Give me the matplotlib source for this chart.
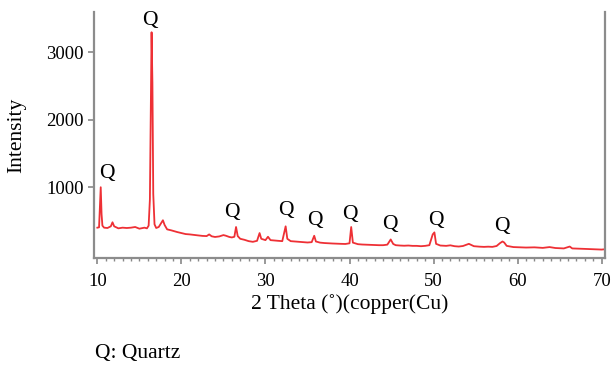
import matplotlib.pyplot as plt
from matplotlib.ticker import MultipleLocator

# XRD pattern
two_theta = [10.0, 10.2, 10.3, 10.4, 10.5, 10.6, 10.8, 11.2, 11.6, 11.8, 12.0, 12.5, 13.0, 13.5,
             14.0, 14.5, 15.0, 15.3, 15.6, 15.9, 16.1, 16.25, 16.35, 16.45, 16.55, 16.65, 16.8,
             17.0, 17.3, 17.6, 17.8, 18.0, 18.3, 18.8, 19.5, 20.0, 20.5, 21.0, 21.5, 22.0, 22.5,
             23.0, 23.3, 23.6, 24.0, 24.5, 25.0, 25.3, 25.7, 26.0, 26.3, 26.5, 26.7, 27.0, 27.5,
             28.0, 28.5, 29.0, 29.3, 29.5, 30.0, 30.3, 30.6, 31.0, 31.5, 32.0, 32.4, 32.6, 33.0,
             33.5, 34.0, 34.5, 35.0, 35.5, 35.8, 36.0, 36.5, 37.0, 37.5, 38.0, 38.5, 39.0, 39.5,
             40.0, 40.2, 40.4, 41.0, 41.5, 42.0, 42.5, 43.0, 43.5, 44.0, 44.5, 44.9, 45.2, 45.5,
             46.0, 46.5, 47.0, 47.5, 48.0, 48.5, 49.0, 49.5, 49.9, 50.1, 50.3, 50.8, 51.5, 52.0,
             52.5, 53.0, 53.5, 54.2, 54.8, 55.5, 56.0, 56.5, 57.0, 57.5, 57.9, 58.2, 58.4, 58.7,
             59.5, 60.0, 61.0, 62.0, 63.0, 63.8, 64.5, 65.5, 66.2, 66.5, 67.0, 68.0, 69.0, 70.0,
             70.4]
intensity = [400, 405, 700, 1000, 600, 430, 400, 395, 420, 480, 420, 390, 400, 395,
             400, 410, 385, 392, 400, 390, 430, 820, 2000, 3300, 2550, 900, 450,
             395, 410, 470, 510, 440, 375, 360, 335, 320, 305, 300, 292, 285, 278,
             275, 300, 272, 262, 270, 290, 280, 262, 255, 265, 410, 275, 235, 220,
             200, 190, 205, 320, 235, 215, 265, 215, 210, 205, 200, 420, 235, 200,
             195, 190, 185, 180, 185, 280, 195, 178, 172, 168, 165, 162, 160, 158,
             168, 410, 178, 155, 150, 148, 145, 142, 140, 140, 148, 225, 158, 140,
             135, 132, 135, 130, 130, 125, 130, 140, 300, 330, 160, 135, 130, 138,
             125, 120, 128, 160, 125, 118, 115, 118, 115, 128, 170, 195, 180, 130,
             112, 110, 105, 108, 100, 112, 98, 92, 120, 92, 90, 85, 80, 75,
             80]

# "Q" marker positions
q_x = [11.1, 16.2, 25.95, 32.4, 35.85, 40.1, 44.75, 50.25, 58.1]
q_y = [1210, 3480, 620, 660, 500, 590, 440, 510, 410]

plt.rcParams['font.family'] = 'Liberation Serif'
fig = plt.figure(figsize=(6.12, 3.66), dpi=100)
ax = fig.add_axes([0.1536, 0.2951, 0.835, 0.672])

ax.plot(two_theta, intensity, color='#ee3035', linewidth=1.3)
for x, y in zip(q_x, q_y):
    ax.text(x, y, 'Q', fontsize=15.5, ha='center', va='center')

ax.set_xlim(9.6, 70.4)
ax.set_ylim(-50, 3600)
ax.set_xticks([10, 20, 30, 40, 50, 60, 70])
ax.xaxis.set_minor_locator(MultipleLocator(1))
ax.set_yticks([1000, 2000, 3000])
ax.tick_params(axis='both', which='major', labelsize=13.5, direction='out',
               length=4, width=1.2, color='#888888')
ax.tick_params(axis='x', which='minor', direction='out', length=2, width=1,
               color='#888888')
ax.tick_params(axis='x', pad=7)

ax.spines['top'].set_visible(False)
for s in ['left', 'right', 'bottom']:
    ax.spines[s].set_color('#8c8c8c')
    ax.spines[s].set_linewidth(1.6)

ax.set_xlabel('2 Theta (˚)(copper(Cu)', fontsize=15.5, labelpad=3)
ax.set_ylabel('Intensity', fontsize=15.5, labelpad=14)
fig.text(0.155, 0.035, 'Q: Quartz', fontsize=15.5, va='center')

plt.savefig('out.png', dpi=100)
